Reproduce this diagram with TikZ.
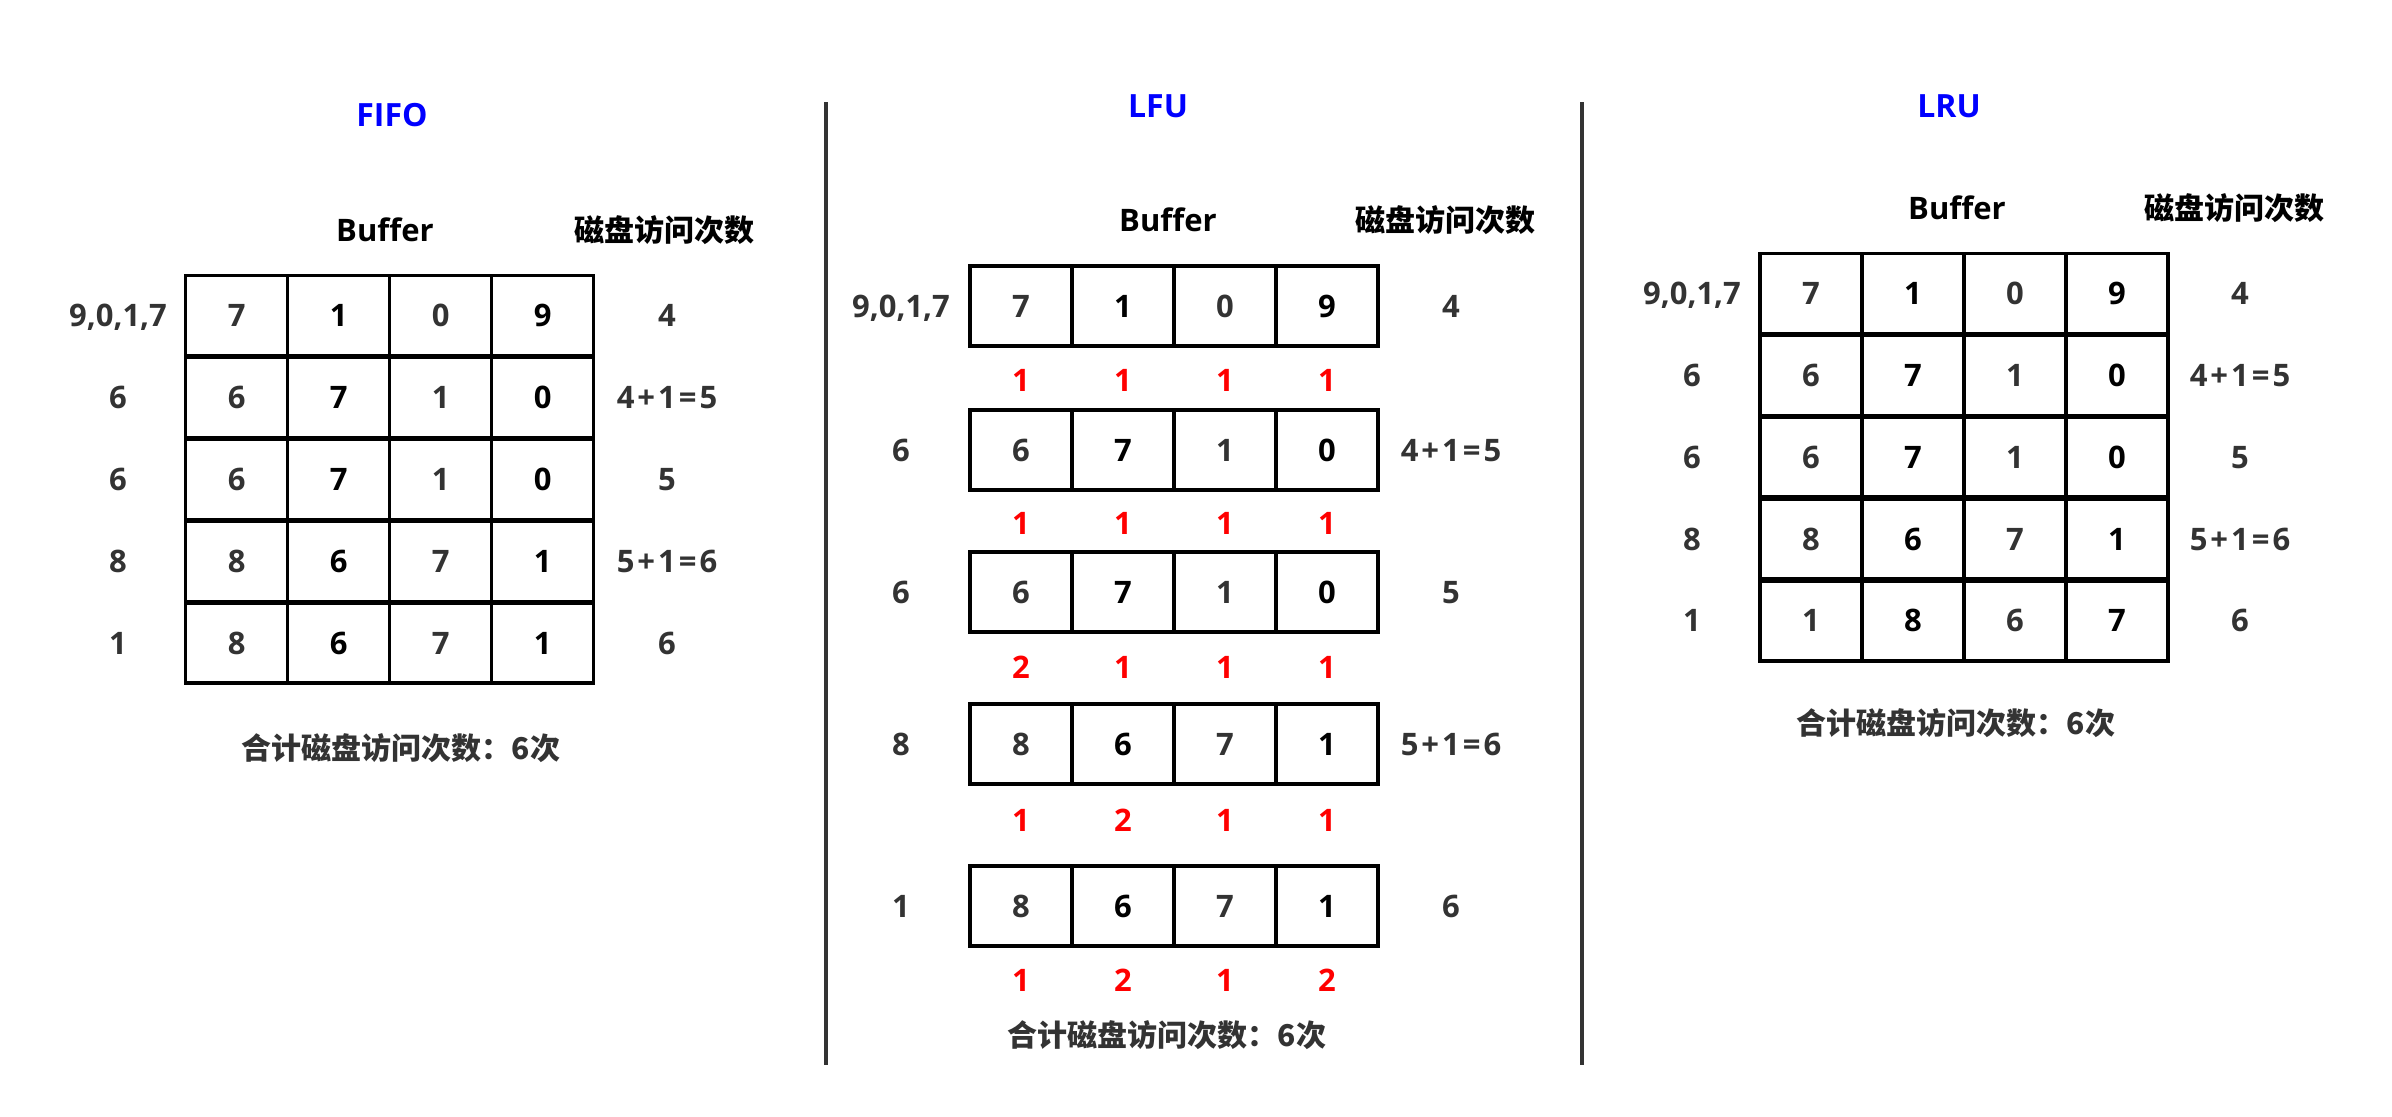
\documentclass[tikz,border=0pt]{standalone}
\usepackage{fontspec}
\setmainfont{Open Sans}
\newfontfamily\cjk{Noto Sans CJK SC}
\definecolor{txtgray}{HTML}{333333}
\definecolor{linegray}{HTML}{333333}
\newcommand\sumA{4\kern3pt+\kern3pt1\kern3pt=\kern3pt5}
\newcommand\sumB{5\kern3pt+\kern3pt1\kern3pt=\kern3pt6}
\begin{document}
\begin{tikzpicture}[x=1pt,y=-1pt,
  bufcell/.style={draw=black, line width=3.5pt, minimum width=102pt, minimum height=80pt, inner sep=0pt,
    font=\fontsize{31}{31}\selectfont\bfseries, text height=22pt, text depth=0pt},
  dg/.style={text=txtgray},
  bk/.style={text=black},
  lbl/.style={font=\fontsize{31}{31}\selectfont\bfseries, text=txtgray, inner sep=0pt, text height=22pt, text depth=0pt},
  cnt/.style={font=\fontsize{31}{31}\selectfont\bfseries, text=red, inner sep=0pt, text height=22pt, text depth=0pt},
  hdr/.style={font=\cjk\fontsize{30}{30}\selectfont\bfseries, text=black, inner sep=0pt},
  buflabel/.style={font=\fontsize{31}{31}\selectfont\bfseries, text=black, inner sep=0pt},
  ttl/.style={font=\fontsize{32}{32}\selectfont\bfseries, text=blue, inner sep=0pt},
  total/.style={font=\cjk\fontsize{30}{30}\selectfont\bfseries, text=txtgray, inner sep=0pt},
  divider/.style={draw=linegray, line width=4pt}]
\useasboundingbox (0,0) rectangle (2392,1116);
\fill[white] (0,0) rectangle (2392,1116);

% ---------------- FIFO ----------------
\node[ttl] (fifo) at (392,115) {FIFO};
\node[buflabel] (fbuf) at (385,230) {Buffer};
\node[hdr] (fdisk) at (664,230) {磁盘访问次数};
\foreach \r/\cy/\lab/\a/\b/\c/\d/\v in {
  1/315.7/{9,0,1,7}/7/1/0/9/4,
  2/397.55/6/6/7/1/0/\sumA,
  3/479.4/6/6/7/1/0/5,
  4/561.25/8/8/6/7/1/\sumB,
  5/643.1/1/8/6/7/1/6}{
  \node[lbl] (fl\r) at (118,\cy) {\lab};
  \node[bufcell,dg] (f\r-1) at (236.7,\cy) {\a};
  \node[bufcell,bk] (f\r-2) at (338.7,\cy) {\b};
  \node[bufcell,dg] (f\r-3) at (440.7,\cy) {\c};
  \node[bufcell,bk] (f\r-4) at (542.7,\cy) {\d};
  \node[lbl] (fv\r) at (667,\cy) {\v};
}
\node[total] (ftotal) at (401,748) {合计磁盘访问次数：6次};

% ---------------- dividers ----------------
\coordinate (d1t) at (825.7,102);
\coordinate (d1b) at (825.7,1065);
\coordinate (d2t) at (1581.7,102);
\coordinate (d2b) at (1581.7,1065);
\draw[divider] (d1t) -- (d1b);
\draw[divider] (d2t) -- (d2b);

% ---------------- LFU ----------------
\node[ttl] (lfu) at (1158,106) {LFU};
\node[buflabel] (lbuf) at (1168,220) {Buffer};
\node[hdr] (ldisk) at (1445,220) {磁盘访问次数};
\foreach \r/\cy/\ry/\lab/\a/\b/\c/\d/\v/\p/\q/\s/\t in {
  1/306/380/{9,0,1,7}/7/1/0/9/4/1/1/1/1,
  2/450/523/6/6/7/1/0/\sumA/1/1/1/1,
  3/592/667/6/6/7/1/0/5/2/1/1/1,
  4/744/820/8/8/6/7/1/\sumB/1/2/1/1,
  5/906/980/1/8/6/7/1/6/1/2/1/2}{
  \node[lbl] (ll\r) at (901,\cy) {\lab};
  \node[bufcell,dg] (m\r-1) at (1021,\cy) {\a};
  \node[bufcell,bk] (m\r-2) at (1123,\cy) {\b};
  \node[bufcell,dg] (m\r-3) at (1225,\cy) {\c};
  \node[bufcell,bk] (m\r-4) at (1327,\cy) {\d};
  \node[lbl] (lv\r) at (1451,\cy) {\v};
  \node[cnt] (c\r-1) at (1021,\ry) {\p};
  \node[cnt] (c\r-2) at (1123,\ry) {\q};
  \node[cnt] (c\r-3) at (1225,\ry) {\s};
  \node[cnt] (c\r-4) at (1327,\ry) {\t};
}
\node[total] (ltotal) at (1167,1035) {合计磁盘访问次数：6次};

% ---------------- LRU ----------------
\node[ttl] (lru) at (1949,106) {LRU};
\node[buflabel] (rbuf) at (1957,208) {Buffer};
\node[hdr] (rdisk) at (2234,208) {磁盘访问次数};
\foreach \r/\cy/\lab/\a/\b/\c/\d/\v in {
  1/293.5/{9,0,1,7}/7/1/0/9/4,
  2/375.35/6/6/7/1/0/\sumA,
  3/457.2/6/6/7/1/0/5,
  4/539.05/8/8/6/7/1/\sumB,
  5/620.9/1/1/8/6/7/6}{
  \node[lbl] (rl\r) at (1692,\cy) {\lab};
  \node[bufcell,dg] (u\r-1) at (1811,\cy) {\a};
  \node[bufcell,bk] (u\r-2) at (1913,\cy) {\b};
  \node[bufcell,dg] (u\r-3) at (2015,\cy) {\c};
  \node[bufcell,bk] (u\r-4) at (2117,\cy) {\d};
  \node[lbl] (rv\r) at (2240,\cy) {\v};
}
\node[total] (rtotal) at (1956,723) {合计磁盘访问次数：6次};
\end{tikzpicture}
\end{document}
